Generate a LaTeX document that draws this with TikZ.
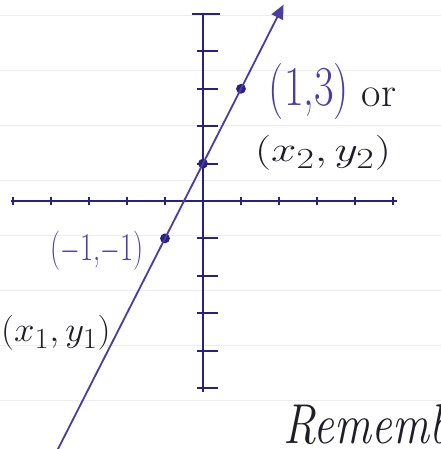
\documentclass[tikz,border=0pt]{standalone}
\usepackage{amsmath}
\usepackage{graphicx}
\usepackage{xcolor}
\usepackage{tikz}
\usetikzlibrary{arrows.meta,positioning,calc}
\definecolor{InkNavy}  {RGB}{ 40, 32,130}
\definecolor{InkPurple}{RGB}{ 78, 60,165}
\definecolor{InkBlack} {RGB}{ 30, 30, 40}
\definecolor{RuleGray} {RGB}{236,236,240}
\tikzset{
  axisline/.style={InkNavy, line width=1.8pt},
  tickmark/.style={InkNavy, line width=1.4pt},
  ptdot/.style={circle, fill=InkNavy, inner sep=0pt, minimum size=7pt},
  graphline/.style={InkPurple, line width=1.3pt, -{Triangle[length=10pt,width=9pt]}},
  penlabel/.style={inner sep=0pt}
}
\begin{document}
\begin{tikzpicture}[x=0.95cm,y=0.935cm]
      \useasboundingbox (-5.075cm,-6.2cm) rectangle (5.95cm,5.025cm);
      \clip (-5.075cm,-6.2cm) rectangle (5.95cm,5.025cm);
      \fill[white] (-5.075cm,-6.2cm) rectangle (5.95cm,5.025cm);
      % notebook rules
      \foreach \r in {0,...,7}
        \draw[RuleGray, line width=0.6pt]
          (-5.075cm,{4.65cm-\r*1.375cm}) -- (5.95cm,{4.65cm-\r*1.375cm});
      % axes
      \coordinate (xleft)  at (-5.05,0);
      \coordinate (xright) at (5.1,0);
      \coordinate (ytop)   at (0,5);
      \coordinate (ybot)   at (0,-5.1);
      \draw[axisline] (xleft) -- (xright);
      \draw[axisline] (ybot) -- (ytop);
      \draw[tickmark] ($(ytop)+(-0.3,0)$) -- ($(ytop)+(0.45,0)$);
      \foreach \i in {-5,...,-1,1,2,...,5}
        \draw[tickmark] (\i,0.12) -- (\i,-0.12);
      \foreach \j in {-5,...,-1,1,2,3,4}
        \draw[tickmark] (-0.15,\j) -- (0.4,\j);
      % line y = 2x + 1
      \node[ptdot] (pA) at (-1,-1) {};
      \node[ptdot] (pB) at (0,1) {};
      \node[ptdot] (pC) at (1,3) {};
      \coordinate (lstart) at (-3.85,-6.7);
      \coordinate (lend)   at (2.12,5.25);
      \draw[graphline] (lstart) -- (pA.center) -- (pB.center) -- (pC.center) -- (lend);
      % labels
      \node[penlabel, text=InkPurple, font=\fontsize{40}{42}\selectfont]
        (labC) at (2.65cm,2.75cm) {\scalebox{0.76}[1]{(1,3)}};
      \node[penlabel, text=InkBlack, font=\fontsize{30}{32}\selectfont]
        (labOr) at (4.4cm,2.6cm) {or};
      \node[penlabel, text=InkBlack, font=\fontsize{31}{33}\selectfont]
        (labC2) at (3.0cm,1.2cm) {\scalebox{1.3}[1]{$(x_2,y_2)$}};
      \node[penlabel, text=InkPurple, font=\fontsize{28}{30}\selectfont]
        (labA) at (-2.65cm,-1.25cm) {\scalebox{0.72}[1]{($-$1,$-$1)}};
      \node[penlabel, text=InkBlack, font=\fontsize{32}{34}\selectfont, anchor=east]
        (labA2) at (-2.3cm,-3.3cm) {\scalebox{1.05}[1]{$(x_1,y_1)$}};
      \node[penlabel, text=InkBlack, anchor=west, font=\fontsize{40}{42}\selectfont\itshape]
        (labRem) at (2.0cm,-5.6cm) {\scalebox{0.82}[1]{Remember}};
    \end{tikzpicture}
\end{document}
